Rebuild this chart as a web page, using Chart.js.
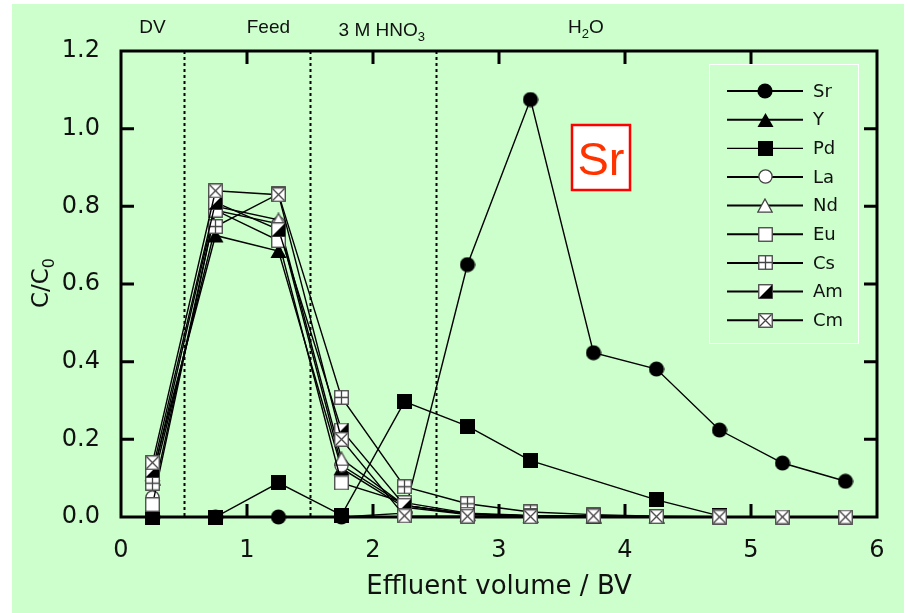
<!DOCTYPE html>
<html>
<head>
<meta charset="utf-8">
<script src="https://cdn.jsdelivr.net/npm/chart.js@4"></script>
<style>
  html, body { margin: 0; padding: 0; background: #fff; }
</style>
</head>
<body>
<canvas id="chart" width="910" height="613"></canvas>
<script>
// effluent volume (BV) of each fraction
const volume = [0.25, 0.75, 1.25, 1.75, 2.25, 2.75, 3.25, 3.75, 4.25, 4.75, 5.25, 5.75];

// C/C0 per element
const sr = [0, 0, 0, 0, 0.01, 0.65, 1.075, 0.423, 0.381, 0.224, 0.139, 0.092];
const yy = [0.11, 0.725, 0.685, 0.125, 0.025, 0.006, 0.002, 0.001, 0.001, null, null, null];
const pd = [0, 0, 0.088, 0.005, 0.297, 0.234, 0.145, null, 0.044, 0.003, null, null];
const la = [0.05, 0.79, 0.755, 0.133, 0.03, 0.008, 0.003, 0.002, 0.001, null, null, null];
const nd = [0.1, 0.80, 0.765, 0.15, 0.03, 0.008, 0.003, 0.002, 0.001, null, null, null];
const eu = [0.032, 0.79, 0.712, 0.088, 0.037, 0.01, 0.004, 0.002, 0.001, null, null, null];
const cs = [0.087, 0.748, 0.832, 0.308, 0.078, 0.034, 0.013, 0.006, 0.002, 0.001, null, null];
const am = [0.12, 0.81, 0.74, 0.224, 0.03, 0.007, 0.003, 0.002, 0.001, null, null, null];
const cm = [0.14, 0.84, 0.83, 0.2, 0.003, 0.002, 0.001, 0.003, 0.001, 0, 0, 0];

const elements = ["Sr", "Y", "Pd", "La", "Nd", "Eu", "Cs", "Am", "Cm"];
const series = [sr, yy, pd, la, nd, eu, cs, am, cm];

const xTickLabels = ["0", "1", "2", "3", "4", "5", "6"];
const yTickLabels = ["0.0", "0.2", "0.4", "0.6", "0.8", "1.0", "1.2"];

// eluent steps: boundaries and labels (label text split in [text, isSubscript])
const stepBounds = [0.5, 1.5, 2.5];
const stepLabels = [
  [["DV", false]],
  [["Feed", false]],
  [["3 M HNO", false], ["3", true]],
  [["H", false], ["2", true], ["O", false]]
];
const stepLabelAt = [0.25, 1.17, 2.07, 3.69];
const stepLabelBase = [33, 33, 36, 33];

const GREEN = "#ccffcc";

// ---- marker images ----
function mk(w, h, fn){
  const c = document.createElement("canvas");
  c.width = w; c.height = h;
  fn(c.getContext("2d"), w, h);
  return c;
}
function openSq(g, s){
  g.fillStyle = "#fff";
  g.fillRect(0.5, 0.5, s - 1, s - 1);
  g.strokeStyle = "#444";
  g.lineWidth = 1.3;
  g.strokeRect(0.75, 0.75, s - 1.5, s - 1.5);
}
const markers = [
  mk(16, 16, (g)=>{ g.fillStyle="#000"; g.beginPath(); g.arc(8,8,7.6,0,Math.PI*2); g.fill(); }),
  mk(17, 16, (g)=>{ g.fillStyle="#000"; g.beginPath(); g.moveTo(8.5,1); g.lineTo(16.5,15); g.lineTo(0.5,15); g.closePath(); g.fill(); }),
  mk(15, 15, (g)=>{ g.fillStyle="#000"; g.fillRect(0,0,15,15); }),
  mk(15, 15, (g)=>{ g.fillStyle="#fff"; g.strokeStyle="#444"; g.lineWidth=1.3; g.beginPath(); g.arc(7.5,7.5,6.6,0,Math.PI*2); g.fill(); g.stroke(); }),
  mk(16, 15, (g)=>{ g.fillStyle="#fff"; g.strokeStyle="#444"; g.lineWidth=1.3; g.beginPath(); g.moveTo(8,1); g.lineTo(15.2,14.2); g.lineTo(0.8,14.2); g.closePath(); g.fill(); g.stroke(); }),
  mk(15, 15, (g, s)=>{ openSq(g, s); }),
  mk(15, 15, (g, s)=>{ openSq(g, s); g.beginPath(); g.moveTo(7.5,1); g.lineTo(7.5,14); g.moveTo(1,7.5); g.lineTo(14,7.5); g.stroke(); }),
  mk(15, 15, (g, s)=>{ openSq(g, s); g.fillStyle="#000"; g.beginPath(); g.moveTo(14.2,0.8); g.lineTo(14.2,14.2); g.lineTo(0.8,14.2); g.closePath(); g.fill(); }),
  mk(15, 15, (g, s)=>{ openSq(g, s); g.beginPath(); g.moveTo(1.5,1.5); g.lineTo(13.5,13.5); g.moveTo(13.5,1.5); g.lineTo(1.5,13.5); g.stroke(); })
];

// text with subscripts, centred on x
function richText(ctx, parts, x, base, size, family){
  const subSize = Math.round(size * 0.7);
  let total = 0;
  parts.forEach(p => {
    ctx.font = (p[1] ? subSize : size) + "px " + family;
    total += ctx.measureText(p[0]).width;
  });
  let cx = x - total / 2;
  ctx.textAlign = "left";
  ctx.textBaseline = "alphabetic";
  parts.forEach(p => {
    ctx.font = (p[1] ? subSize : size) + "px " + family;
    ctx.fillText(p[0], cx, p[1] ? base + size * 0.28 : base);
    cx += ctx.measureText(p[0]).width;
  });
}

const decor = {
  id: "decor",
  beforeDraw(chart){
    const ctx = chart.ctx;
    ctx.save();
    ctx.fillStyle = "#fff";
    ctx.fillRect(0, 0, chart.width, chart.height);
    ctx.fillStyle = GREEN;
    ctx.fillRect(12, 4, 892, 609);
    ctx.restore();
  },
  beforeDatasetsDraw(chart){
    const {ctx, chartArea: a, scales: {x, y}} = chart;
    ctx.save();
    // step boundaries
    ctx.strokeStyle = "#000";
    ctx.lineWidth = 2;
    ctx.setLineDash([3, 3]);
    stepBounds.forEach(v => {
      const px = Math.round(x.getPixelForValue(v)) + 0.5;
      ctx.beginPath(); ctx.moveTo(px, a.top); ctx.lineTo(px, a.bottom); ctx.stroke();
    });
    ctx.setLineDash([]);
    // frame + inward ticks
    ctx.lineWidth = 3;
    ctx.strokeRect(a.left, a.top, a.right - a.left, a.bottom - a.top);
    const tl = 13;
    x.ticks.forEach(t => {
      if (t.value <= x.min || t.value >= x.max) return;
      const px = x.getPixelForValue(t.value);
      ctx.beginPath();
      ctx.moveTo(px, a.bottom); ctx.lineTo(px, a.bottom - tl);
      ctx.moveTo(px, a.top); ctx.lineTo(px, a.top + tl);
      ctx.stroke();
    });
    y.ticks.forEach(t => {
      if (t.value <= y.min + 1e-9 || t.value >= y.max - 1e-9) return;
      const py = y.getPixelForValue(t.value);
      ctx.beginPath();
      ctx.moveTo(a.left, py); ctx.lineTo(a.left + tl, py);
      ctx.moveTo(a.right, py); ctx.lineTo(a.right - tl, py);
      ctx.stroke();
    });
    ctx.restore();
  },
  afterDraw(chart){
    const {ctx, scales: {x}} = chart;
    ctx.save();
    ctx.fillStyle = "#111";
    // step labels
    stepLabels.forEach((parts, i) => {
      richText(ctx, parts, x.getPixelForValue(stepLabelAt[i]), stepLabelBase[i], 19, "'Liberation Sans', Arial, sans-serif");
    });
    // y title
    ctx.save();
    ctx.translate(48, 283);
    ctx.rotate(-Math.PI / 2);
    richText(ctx, [["C/C", false], ["0", true]], 0, 0, 23, "'DejaVu Sans', sans-serif");
    ctx.restore();
    // legend
    ctx.strokeStyle = "#fff";
    ctx.lineWidth = 1;
    ctx.strokeRect(709.5, 64.5, 149, 279);
    elements.forEach((name, i) => {
      const ry = 91 + i * 28.65;
      ctx.strokeStyle = "#000";
      ctx.lineWidth = i === 2 ? 1.3 : 2;
      ctx.beginPath(); ctx.moveTo(727, ry); ctx.lineTo(803, ry); ctx.stroke();
      const m = markers[i];
      ctx.drawImage(m, Math.round(765 - m.width / 2), Math.round(ry - m.height / 2));
      ctx.fillStyle = "#111";
      ctx.font = "18px 'DejaVu Sans', sans-serif";
      ctx.textAlign = "left";
      ctx.textBaseline = "middle";
      ctx.fillText(name, 813, ry + 1);
    });
    // element badge
    ctx.fillStyle = "#fff";
    ctx.fillRect(572, 125, 58, 65);
    ctx.strokeStyle = "#ff0000";
    ctx.lineWidth = 2.5;
    ctx.strokeRect(572, 125, 58, 65);
    ctx.fillStyle = "#ff3300";
    ctx.font = "47px 'Liberation Sans', Arial, sans-serif";
    ctx.textAlign = "center";
    ctx.textBaseline = "alphabetic";
    ctx.fillText("Sr", 601, 175);
    ctx.restore();
  }
};

const order = [9, 8, 7, 6, 5, 4, 3, 2, 1];
const datasets = elements.map((name, i) => ({
  label: name,
  data: volume.map((v, j) => ({x: v, y: series[i][j]})),
  borderColor: "#000",
  borderWidth: 1.4,
  pointStyle: markers[i],
  pointRadius: 7,
  pointHoverRadius: 7,
  spanGaps: true,
  clip: false,
  order: order[i]
}));

const tickFont = {family: "'DejaVu Sans', sans-serif", size: 24};

new Chart(document.getElementById("chart"), {
  type: "line",
  data: {datasets},
  options: {
    responsive: false,
    animation: false,
    events: [],
    layout: {padding: {left: 0, top: 51, right: 33, bottom: 0}},
    plugins: {legend: {display: false}, tooltip: {enabled: false}},
    scales: {
      x: {
        type: "linear", min: 0, max: 6,
        afterFit(s){ s.height = 96; },
        grid: {display: false}, border: {display: false},
        ticks: {stepSize: 1, padding: 11, color: "#111", font: tickFont, maxRotation: 0,
                callback: (v, i) => xTickLabels[i]},
        title: {display: true, text: "Effluent volume / BV", color: "#111",
                font: {family: "'DejaVu Sans', sans-serif", size: 26}, padding: {top: 0, bottom: 10}}
      },
      y: {
        min: 0, max: 1.2,
        afterFit(s){ s.width = 121; },
        grid: {display: false}, border: {display: false},
        ticks: {stepSize: 0.2, padding: 13, color: "#111", font: tickFont,
                callback: (v, i) => yTickLabels[i]}
      }
    }
  },
  plugins: [decor]
});
</script>
</body>
</html>
